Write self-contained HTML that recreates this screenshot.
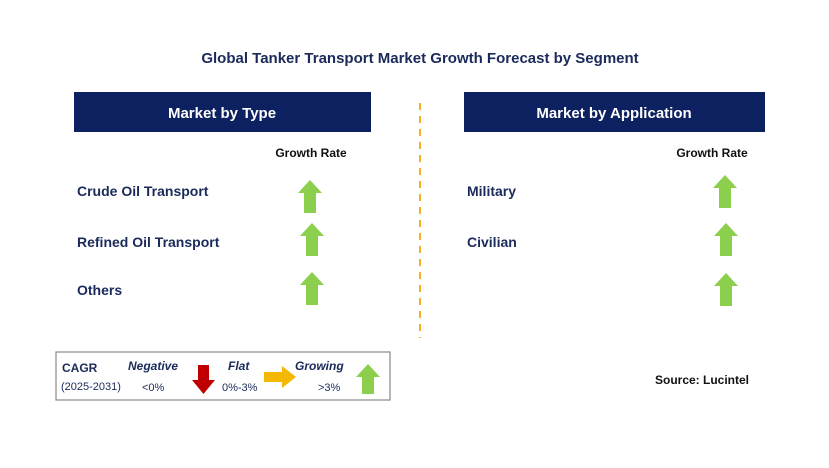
<!DOCTYPE html>
<html><head><meta charset="utf-8"><style>
html,body{margin:0;padding:0;background:#fff;}
svg{display:block;font-family:"Liberation Sans",Arial,sans-serif;}
</style></head><body>
<svg width="829" height="468" viewBox="0 0 829 468">
<defs>
<g id="up"><polygon points="0,-17 12,-4 6,-4 6,16 -6,16 -6,-4 -12,-4" fill="#8ccf4d"/></g>
</defs>
<text x="420" y="63" text-anchor="middle" font-size="15" font-weight="bold" fill="#1a2a5a">Global Tanker Transport Market Growth Forecast by Segment</text>

<rect x="74" y="92" width="297" height="40" fill="#0d2060"/>
<text x="222" y="118" text-anchor="middle" font-size="15" font-weight="bold" fill="#fff">Market by Type</text>
<rect x="464" y="92" width="301" height="40" fill="#0d2060"/>
<text x="614" y="118" text-anchor="middle" font-size="15" font-weight="bold" fill="#fff">Market by Application</text>

<line x1="420" y1="103" x2="420" y2="338" stroke="#f5b323" stroke-width="2" stroke-dasharray="7,6"/>

<text x="311" y="157" text-anchor="middle" font-size="12" font-weight="bold" fill="#111">Growth Rate</text>
<text x="712" y="157" text-anchor="middle" font-size="12" font-weight="bold" fill="#111">Growth Rate</text>

<g font-size="14" font-weight="bold" fill="#1a2a5a">
<text x="77" y="196">Crude Oil Transport</text>
<text x="77" y="247">Refined Oil Transport</text>
<text x="77" y="295">Others</text>
<text x="467" y="196">Military</text>
<text x="467" y="247">Civilian</text>
</g>
<use href="#up" x="310" y="197"/>
<use href="#up" x="312" y="240"/>
<use href="#up" x="312" y="289"/>
<use href="#up" x="725" y="192"/>
<use href="#up" x="726" y="240"/>
<use href="#up" x="726" y="290"/>

<g>
<rect x="56" y="352" width="334" height="48" fill="#fff" stroke="#888" stroke-width="1.2"/>
<text x="62" y="372" font-size="12" font-weight="bold" fill="#1a2a5a">CAGR</text>
<text x="61" y="390" font-size="11" fill="#1a2a5a">(2025-2031)</text>
<text x="128" y="370" font-size="12" font-weight="bold" font-style="italic" fill="#1a2a5a">Negative</text>
<text x="142" y="391" font-size="11" fill="#1a2a5a">&lt;0%</text>
<polygon points="198,365 209,365 209,380 215,380 203.5,394 192,380 198,380" fill="#c00000"/>
<text x="228" y="370" font-size="12" font-weight="bold" font-style="italic" fill="#1a2a5a">Flat</text>
<text x="222" y="391" font-size="11" fill="#1a2a5a">0%-3%</text>
<polygon points="264,372 282,372 282,366 296,377 282,388 282,382 264,382" fill="#f5b800"/>
<text x="295" y="370" font-size="12" font-weight="bold" font-style="italic" fill="#1a2a5a">Growing</text>
<text x="318" y="391" font-size="11" fill="#1a2a5a">&gt;3%</text>
<polygon points="368,364 380,377 374,377 374,394 362,394 362,377 356,377" fill="#8ccf4d"/>
</g>
<text x="749" y="384" text-anchor="end" font-size="12" font-weight="bold" fill="#111">Source: Lucintel</text>
</svg>
</body></html>
